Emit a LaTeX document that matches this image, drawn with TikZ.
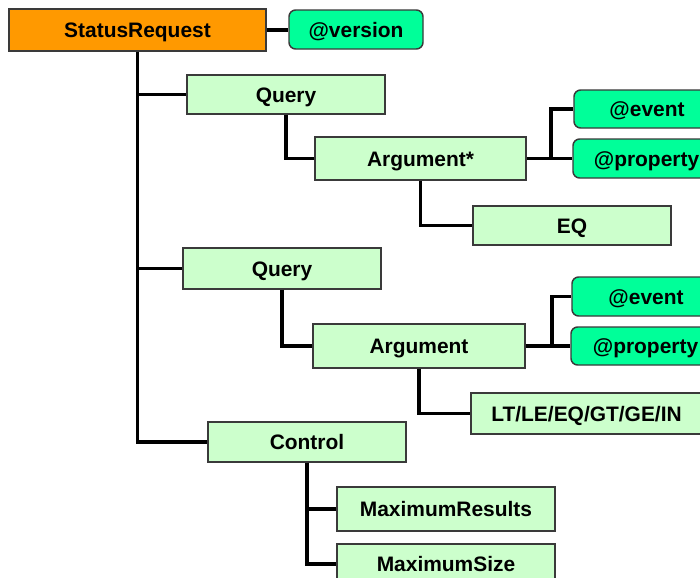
\documentclass[tikz,border=0pt]{standalone}
\usepackage{fontspec}
\setmainfont{Liberation Sans}
\definecolor{orangebox}{HTML}{FF9900}
\definecolor{lightbox}{HTML}{CCFFCC}
\definecolor{mintbox}{HTML}{00FF99}
\definecolor{borderc}{HTML}{3A3A3A}
\tikzset{
  base/.style={draw=borderc, line width=1.1pt, inner sep=0pt, text height=11.3pt, text depth=0pt, font=\fontsize{15.7}{18}\selectfont\bfseries, text=black},
  rootbox/.style={base, fill=orangebox},
  elembox/.style={base, fill=lightbox},
  attrbox/.style={base, fill=mintbox, rounded corners=5pt},
  conn/.style={draw=black, line width=2.4pt}
}
\begin{document}
\begin{tikzpicture}[x=0.75pt, y=-0.75pt]
\clip (0,0) rectangle (700,578);
\fill[white] (0,0) rectangle (700,578);
% nodes
\node[rootbox, minimum width=257*0.75pt, minimum height=42*0.75pt] (SR) at (137.5,30) {StatusRequest};
\node[attrbox, minimum width=134*0.75pt, minimum height=39*0.75pt] (ver) at (356,29.5) {@version};
\node[elembox, minimum width=198*0.75pt, minimum height=39*0.75pt] (Q1) at (286,94.5) {Query};
\node[elembox, minimum width=211*0.75pt, minimum height=43*0.75pt] (A1) at (420.5,158.5) {Argument*};
\node[attrbox, minimum width=146*0.75pt, minimum height=38*0.75pt] (E1) at (647,109) {@event};
\node[attrbox, minimum width=147*0.75pt, minimum height=39*0.75pt] (P1) at (646.5,158.5) {@property};
\node[elembox, minimum width=198*0.75pt, minimum height=39*0.75pt] (EQ) at (572,225.5) {EQ};
\node[elembox, minimum width=198*0.75pt, minimum height=41*0.75pt] (Q2) at (282,268.5) {Query};
\node[elembox, minimum width=212*0.75pt, minimum height=44*0.75pt] (A2) at (419,346) {Argument};
\node[attrbox, minimum width=148*0.75pt, minimum height=39*0.75pt] (E2) at (646,296.5) {@event};
\node[attrbox, minimum width=149*0.75pt, minimum height=38*0.75pt] (P2) at (645.5,346) {@property};
\node[elembox, minimum width=231*0.75pt, minimum height=41*0.75pt] (LT) at (586.5,413.5) {LT/LE/EQ/GT/GE/IN};
\node[elembox, minimum width=198*0.75pt, minimum height=40*0.75pt] (Ctl) at (307,442) {Control};
\node[elembox, minimum width=218*0.75pt, minimum height=44*0.75pt] (MR) at (446,509) {MaximumResults};
\node[elembox, minimum width=218*0.75pt, minimum height=40*0.75pt] (MS) at (446,564) {MaximumSize};
% junctions
\coordinate (j1) at (551,158.5);
\coordinate (j2) at (552,346);
% connectors
\draw[conn] (SR.east) -- (SR.east -| ver.west);
\draw[conn] (SR.south) |- (Ctl.west);
\draw[conn] (SR.south |- Q1.west) -- (Q1.west);
\draw[conn] (SR.south |- Q2.west) -- (Q2.west);
\draw[conn] (Q1.south) |- (A1.west);
\draw[conn] (A1.south) |- (EQ.west);
\draw[conn] (A1.east) -- (j1) |- (E1.west);
\draw[conn] (j1) -- (j1 -| P1.west);
\draw[conn] (Q2.south) |- (A2.west);
\draw[conn] (A2.south) |- (LT.west);
\draw[conn] (A2.east) -- (j2) |- (E2.west);
\draw[conn] (j2) -- (j2 -| P2.west);
\draw[conn] (Ctl.south) |- (MR.west);
\draw[conn] (Ctl.south) |- (MS.west);
\end{tikzpicture}
\end{document}
